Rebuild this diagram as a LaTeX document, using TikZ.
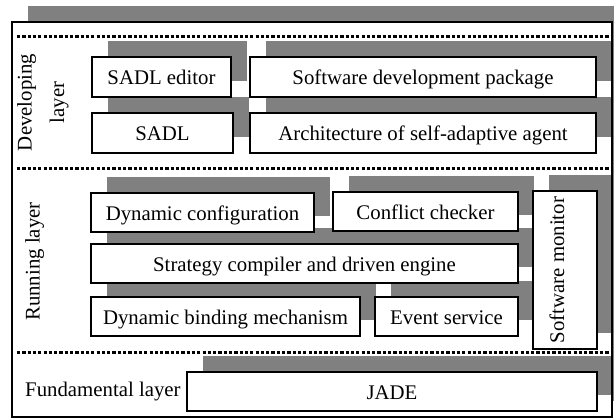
\documentclass[tikz,border=0pt]{standalone}
\usepackage{fontspec}
\setmainfont{Liberation Serif}
\pgfdeclarelayer{back}
\pgfdeclarelayer{shade}
\pgfsetlayers{back,shade,main}
\definecolor{shadowgray}{HTML}{808080}

\begin{document}
\begin{tikzpicture}[x=1pt,y=-1pt,
  every node/.style={font=\fontsize{20.8}{24}\selectfont},
  wh/.style 2 args={minimum width=#1pt, minimum height=#2pt},
  block/.style={draw, line width=1.6pt, fill=white, inner sep=0pt, outer sep=0pt,
    anchor=north west, text height=16pt, text depth=0pt},
  outerframe/.style={draw, line width=1.8pt, inner sep=0pt, outer sep=0pt, anchor=north west},
  shadowfill/.style={fill=shadowgray},
  divider/.style={line width=3pt, dash pattern=on 3.2pt off 2.1pt},
  layerlabel/.style={inner sep=0pt}]

\useasboundingbox (0,0) rectangle (614,419);
\clip (0,0) rectangle (614,419);

% outer frame
\node[outerframe, wh={600}{395}] (frame) at (12,22) {};

% developing layer
\node[block, wh={139}{40}] (editor) at (92,57) {SADL editor};
\node[block, wh={346}{40}] (sdk) at (250,57) {Software development package};
\node[block, wh={141}{40}] (sadl) at (92,113) {SADL};
\node[block, wh={346}{40}] (arch) at (250,113) {Architecture of self-adaptive agent};

% running layer
\node[block, wh={223}{39}] (dyncfg) at (91,193) {Dynamic configuration};
\node[block, wh={185}{39}] (conflict) at (333,192) {Conflict checker};
\node[block, wh={427}{39}] (strategy) at (91,244) {Strategy compiler and driven engine};
\node[block, wh={269}{39}] (binding) at (91,297) {Dynamic binding mechanism};
\node[block, wh={143}{39}] (event) at (375,297) {Event service};
\node[block, wh={64}{158}] (monitor) at (533,191) {};

% fundamental layer
\node[block, wh={410}{39}] (jade) at (187,372) {JADE};

% layer names
\node[layerlabel, rotate=90, align=center, font=\fontsize{20.8}{32.5}\selectfont]
  (devlabel) at (43,102.5) {Developing\\layer};
\node[layerlabel, rotate=90, anchor=base] (runlabel) at (39.5,261.5) {Running layer};
\node[layerlabel, anchor=base west] (fundlabel) at (25,397) {Fundamental layer};
\node[layerlabel, rotate=90, anchor=base] (monlabel) at (564,270) {Software monitor};

% dotted separators between the layers
\draw[divider] (17,37) -- (612,37);
\draw[divider] (17,169) -- (612,169);
\draw[divider] (17,353) -- (612,353);

% frame shadow and white panel
\begin{pgfonlayer}{back}
  \fill[shadowfill] ([xshift=16pt,yshift=16pt]frame.south west) rectangle ([xshift=16pt,yshift=16pt]frame.north east);
  \fill[white] (frame.south west) rectangle (frame.north east);
\end{pgfonlayer}

% box shadows
\begin{pgfonlayer}{shade}
  \foreach \n in {editor,sdk,sadl,arch,dyncfg,conflict,strategy,binding,event,monitor,jade}
    \fill[shadowfill] ([xshift=16pt,yshift=16pt]\n.south west) rectangle ([xshift=16pt,yshift=16pt]\n.north east);
\end{pgfonlayer}
\end{tikzpicture}
\end{document}
